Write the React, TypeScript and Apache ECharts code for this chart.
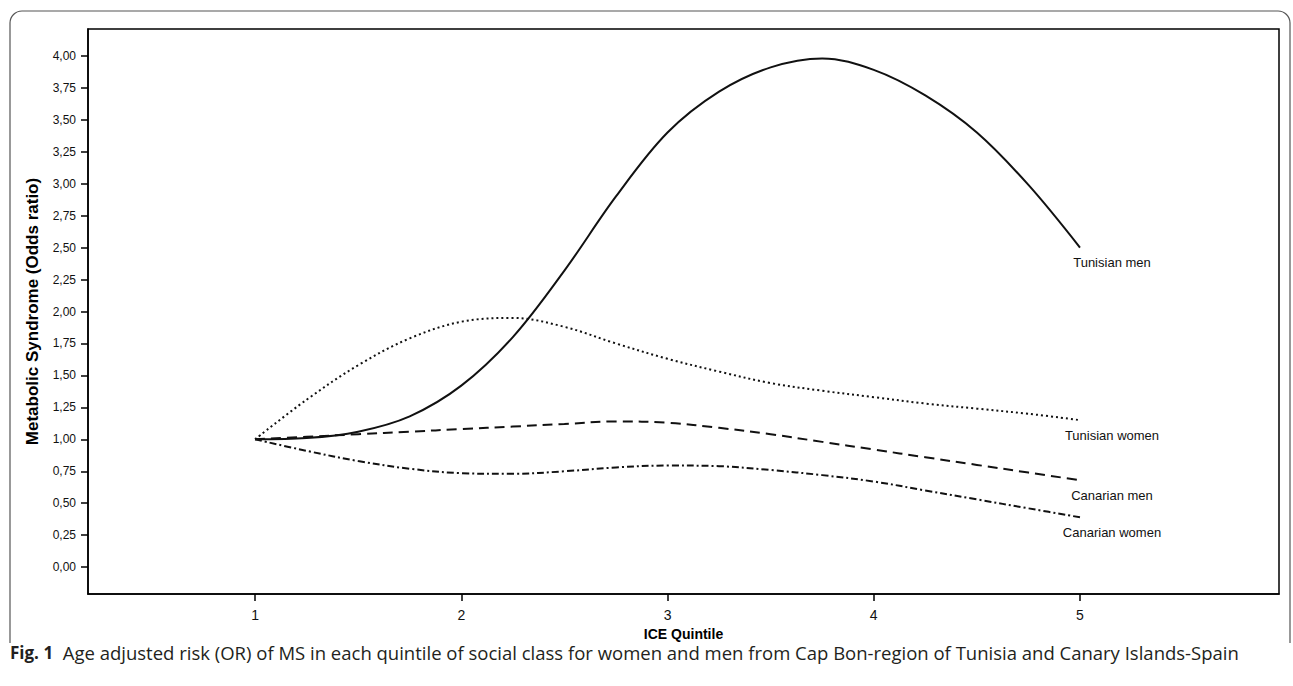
import React, { useEffect, useRef } from "react";
import * as echarts from "echarts";

const xQuintile = [1, 1.25, 1.5, 1.75, 2, 2.25, 2.5, 2.75, 3, 3.25, 3.5, 3.75, 4, 4.25, 4.5, 4.75, 5];

const tunisianMen = [1.0, 1.01, 1.06, 1.18, 1.42, 1.8, 2.32, 2.9, 3.4, 3.72, 3.91, 3.98, 3.89, 3.69, 3.4, 2.99, 2.5];
const tunisianWomen = [1.0, 1.31, 1.58, 1.79, 1.92, 1.95, 1.88, 1.75, 1.63, 1.53, 1.44, 1.38, 1.33, 1.28, 1.24, 1.2, 1.15];
const canarianMen = [1.0, 1.02, 1.04, 1.06, 1.08, 1.1, 1.12, 1.14, 1.13, 1.09, 1.04, 0.98, 0.92, 0.86, 0.8, 0.74, 0.68];
const canarianWomen = [1.0, 0.91, 0.83, 0.77, 0.735, 0.73, 0.75, 0.78, 0.795, 0.79, 0.76, 0.72, 0.67, 0.6, 0.53, 0.46, 0.39];

const seriesNames = ["Tunisian men", "Tunisian women", "Canarian men", "Canarian women"];

const xTicks = [1, 2, 3, 4, 5];
const yTicks = [0, 0.25, 0.5, 0.75, 1, 1.25, 1.5, 1.75, 2, 2.25, 2.5, 2.75, 3, 3.25, 3.5, 3.75, 4];

const yTitle = "Metabolic Syndrome (Odds ratio)";
const xTitle = "ICE Quintile";
const captionBold = "Fig. 1";
const captionText =
  "Age adjusted risk (OR) of MS in each quintile of social class for women and men from Cap Bon-region of Tunisia and Canary Islands-Spain";

const FONT = "'Liberation Sans', Arial, sans-serif";
const CAP_FONT = "'Open Sans', 'Noto Sans', sans-serif";

export default function App() {
  const ref = useRef<HTMLDivElement>(null);

  useEffect(() => {
    if (!ref.current) return;
    const chart = echarts.init(ref.current, null, { renderer: "svg" });

    const allSeries = [tunisianMen, tunisianWomen, canarianMen, canarianWomen];
    const dashes: any[] = ["solid", [2, 3], [10, 6], [7, 3, 2, 3]];

    const series = allSeries.map((vals, i) => ({
      type: "line",
      name: seriesNames[i],
      data: xQuintile.map((x, j) => [x, vals[j]]),
      smooth: 0.35,
      showSymbol: false,
      symbol: "none",
      lineStyle: { color: "#111", width: 2, type: dashes[i] },
      markPoint: {
        silent: true,
        symbol: "circle",
        symbolSize: 1,
        itemStyle: { color: "rgba(0,0,0,0)" },
        label: {
          show: true,
          position: "bottom",
          distance: 8,
          offset: [32, 0],
          formatter: seriesNames[i],
          color: "#111",
          fontSize: 13,
          fontFamily: FONT,
        },
        data: [{ coord: [xQuintile[xQuintile.length - 1], vals[vals.length - 1]] }],
      },
    }));

    chart.setOption({
      animation: false,
      backgroundColor: "#fff",
      grid: {
        left: 88,
        top: 29,
        right: 14,
        bottom: 92,
        show: true,
        borderColor: "#000",
        borderWidth: 1.5,
        backgroundColor: "transparent",
      },
      xAxis: {
        type: "value",
        min: 0.19,
        max: 5.965,
        name: xTitle,
        nameLocation: "middle",
        nameGap: 33,
        nameTextStyle: { fontSize: 14, fontWeight: "bold", color: "#000", fontFamily: FONT },
        axisLine: { show: true, onZero: false, lineStyle: { color: "#000", width: 1.5 } },
        axisTick: { show: true, customValues: xTicks, length: 7, lineStyle: { color: "#000", width: 1.5 } },
        axisLabel: {
          customValues: xTicks,
          formatter: (v: number) => String(v),
          fontSize: 14,
          color: "#111",
          margin: 14,
          fontFamily: FONT,
        },
        splitLine: { show: false },
      },
      yAxis: {
        type: "value",
        min: -0.21,
        max: 4.21,
        name: yTitle,
        nameLocation: "middle",
        nameGap: 47,
        nameTextStyle: { fontSize: 17, fontWeight: "bold", color: "#000", fontFamily: FONT },
        axisLine: { show: true, onZero: false, lineStyle: { color: "#000", width: 1.5 } },
        axisTick: { show: true, customValues: yTicks, length: 7, lineStyle: { color: "#000", width: 1.5 } },
        axisLabel: {
          customValues: yTicks,
          formatter: (v: number) => v.toFixed(2).replace(".", ","),
          fontSize: 12,
          color: "#111",
          margin: 12,
          fontFamily: FONT,
        },
        splitLine: { show: false },
      },
      series,
      graphic: [
        {
          type: "rect",
          z: 1,
          silent: true,
          shape: { x: 10, y: 11, width: 1280, height: 700, r: 12 },
          style: { fill: "none", stroke: "#555", lineWidth: 1.2 },
        },
        {
          type: "rect",
          z: 2,
          silent: true,
          shape: { x: 0, y: 643, width: 1293, height: 60 },
          style: { fill: "#fff" },
        },
        {
          type: "text",
          z: 3,
          left: 10,
          top: 643,
          silent: true,
          style: {
            text: "{b|" + captionBold + "}  " + captionText,
            fontSize: 18.5,
            fontFamily: CAP_FONT,
            fill: "#231f20",
            rich: {
              b: {
                fontSize: 17,
                fontWeight: "bold",
                fontFamily: CAP_FONT,
                fill: "#231f20",
              },
            },
          },
        },
      ],
    });

    return () => chart.dispose();
  }, []);

  return (
    <div
      ref={ref}
      style={{ position: "absolute", left: 0, top: 0, width: 1293, height: 686 }}
    />
  );
}
